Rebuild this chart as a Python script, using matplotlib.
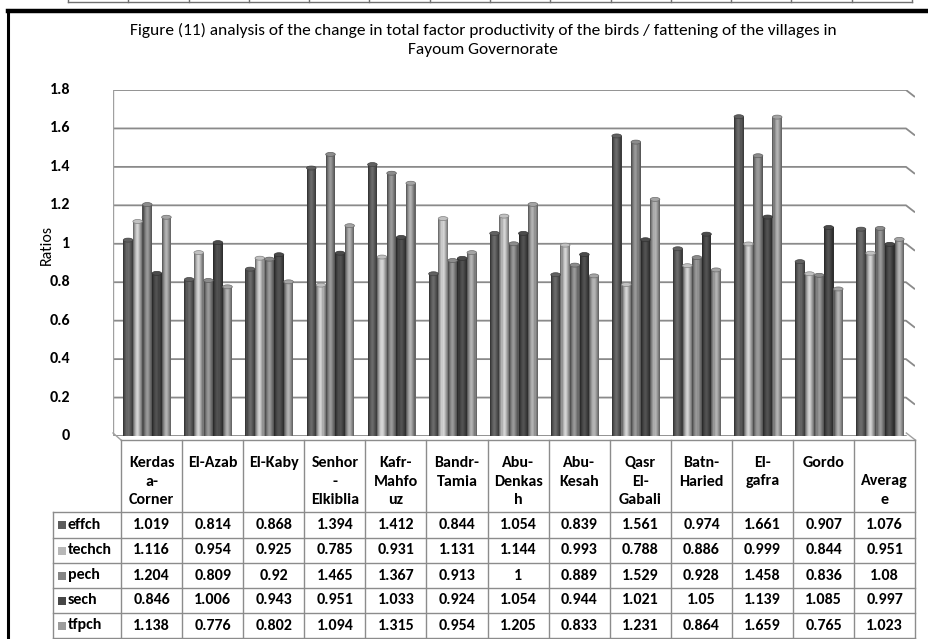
import matplotlib
matplotlib.use('Agg')
import matplotlib.pyplot as plt
from matplotlib.patches import Ellipse, Rectangle
import numpy as np

# villages (header cells are wrapped the way they appear in the data table)
villages = ['Kerdas a-Corner', 'El-Azab', 'El-Kaby', 'Senhor - Elkiblia', 'Kafr-Mahfouz',
            'Bandr-Tamia', 'Abu-Denkash', 'Abu-Kesah', 'Qasr El-Gabali', 'Batn-Haried',
            'El-gafra', 'Gordo', 'Average']
header_lines = [['Kerdas', 'a-', 'Corner'], ['El-Azab'], ['El-Kaby'], ['Senhor', '-', 'Elkiblia'],
                ['Kafr-', 'Mahfo', 'uz'], ['Bandr-', 'Tamia'], ['Abu-', 'Denkas', 'h'],
                ['Abu-', 'Kesah'], ['Qasr', 'El-', 'Gabali'], ['Batn-', 'Haried'], ['El-', 'gafra'],
                ['Gordo'], ['', 'Averag', 'e']]

series = ['effch', 'techch', 'pech', 'sech', 'tfpch']
effch = [1.019, 0.814, 0.868, 1.394, 1.412, 0.844, 1.054, 0.839, 1.561, 0.974, 1.661, 0.907, 1.076]
techch = [1.116, 0.954, 0.925, 0.785, 0.931, 1.131, 1.144, 0.993, 0.788, 0.886, 0.999, 0.844, 0.951]
pech = [1.204, 0.809, 0.92, 1.465, 1.367, 0.913, 1, 0.889, 1.529, 0.928, 1.458, 0.836, 1.08]
sech = [0.846, 1.006, 0.943, 0.951, 1.033, 0.924, 1.054, 0.944, 1.021, 1.05, 1.139, 1.085, 0.997]
tfpch = [1.138, 0.776, 0.802, 1.094, 1.315, 0.954, 1.205, 0.833, 1.231, 0.864, 1.659, 0.765, 1.023]
yticks = [0, 0.2, 0.4, 0.6, 0.8, 1, 1.2, 1.4, 1.6, 1.8]

values = [effch, techch, pech, sech, tfpch]
colors = ['#5c5c5c', '#b8b8b8', '#858585', '#474747', '#9c9c9c']

FONT = ['Carlito', 'Liberation Sans Narrow', 'Liberation Sans', 'DejaVu Sans']
W, H = 929, 639

fig = plt.figure(figsize=(W / 100, H / 100), dpi=100)


def px_box(x0, y0, x1, y1):
    # pixel box (top-left origin) -> figure fraction
    return [x0 / W, 1 - y1 / H, (x1 - x0) / W, (y1 - y0) / H]


# chart area: category i fills [i, i+1]; the back wall starts a little left of the table
col_left, col_w = 121, 61.1
wall_left = 113
y0_px, y18_px = 436, 90
ax = fig.add_axes(px_box(wall_left, y18_px, 915, y0_px))
ax.set_xlim(-(col_left - wall_left) / col_w, 13)
ax.set_ylim(0, 1.8)
ax.set_axis_off()

unit_y = 1.8 / (y0_px - y18_px)
unit_x = 1 / col_w
depth_x, depth_y = 9 * unit_x, 7 * unit_y

# back wall gridlines bending onto the side wall at the right
for t in yticks:
    ax.plot([ax.get_xlim()[0], 13 - depth_x, 13], [t, t, t - depth_y],
            color='#8a8a8a', lw=1.3, solid_capstyle='butt', zorder=1)
ax.plot([ax.get_xlim()[0]] * 2, [0, 1.8], color='#a0a0a0', lw=1.0, zorder=1)

# cylinder bars: each bar is built from narrow strips shaded across its width
bar_w = 0.157
n_strips = 9
shade = np.array([0.6, 0.8, 0.97, 1.1, 1.15, 1.08, 0.94, 0.8, 0.66])
x = np.arange(len(villages)) + 0.43
for k, (vals, c) in enumerate(zip(values, colors)):
    xc = x + (k - 2) * bar_w
    base = np.array(matplotlib.colors.to_rgb(c))
    for s in range(n_strips):
        col = np.clip(base * shade[s], 0, 1)
        off = -bar_w / 2 + (s + 0.5) * bar_w / n_strips
        ax.bar(xc + off, vals, width=bar_w / n_strips * 1.02, color=col, lw=0, zorder=3 + k * 0.01)
    for xi, v in zip(xc, vals):
        ax.add_patch(Ellipse((xi, v), bar_w, 4 * unit_y, facecolor=np.clip(base * 1.05, 0, 1),
                             edgecolor=np.clip(base * 0.7, 0, 1), lw=0.5, zorder=4))

# y tick labels and axis title
for t in yticks:
    fig.text(70 / W, 1 - (y0_px - t / unit_y) / H, f'{t:g}', ha='right', va='center',
             family=FONT, fontsize=11.5, fontweight='bold')
fig.text(47 / W, 1 - 245 / H, 'Ratios', rotation=90, ha='center', va='center',
         family=FONT, fontsize=11.5)

title_x = 483 / W
fig.text(title_x, 1 - 30 / H,
         'Figure (11) analysis of the change in total factor productivity of the birds / fattening of the villages in',
         ha='center', va='center', family=FONT, fontsize=12.5)
fig.text(title_x, 1 - 50 / H, 'Fayoum Governorate', ha='center', va='center', family=FONT, fontsize=12.5)

# overlay in pixel coordinates for the frame and data table
ov = fig.add_axes([0, 0, 1, 1], zorder=5)
ov.set_xlim(0, W)
ov.set_ylim(H, 0)
ov.set_axis_off()
ov.patch.set_alpha(0)

# page border pieces
ov.plot([8, 8], [10, H], color='black', lw=2.2)
ov.plot([8, W], [11, 11], color='black', lw=3.2)
ov.plot([68, 912], [2, 2], color='#707070', lw=1)
for k in range(15):
    xv = 68 + k * (912 - 68) / 14
    ov.plot([xv, xv], [0, 2], color='#707070', lw=1)

# floor edge
ov.plot([wall_left, col_left], [433, 440], color='#a0a0a0', lw=1)
ov.plot([col_left + 13 * col_w - 9, col_left + 13 * col_w], [433, 440], color='#a0a0a0', lw=1)

# table grid
line_c = '#8c8c8c'
head_top, head_bot = 440, 512
row_edges = [512, 538, 563, 588, 613, 638]
right = col_left + 13 * col_w
ov.plot([col_left, right], [head_top, head_top], color=line_c, lw=1)
ov.plot([53, right], [head_bot, head_bot], color=line_c, lw=1)
for yv in row_edges[1:]:
    ov.plot([53, right], [yv, yv], color=line_c, lw=1)
ov.plot([53, 53], [head_bot, row_edges[-1]], color=line_c, lw=1)
for k in range(14):
    xv = col_left + k * col_w
    ov.plot([xv, xv], [head_top, row_edges[-1]], color=line_c, lw=1)

for i, lines in enumerate(header_lines):
    xc = col_left + (i + 0.5) * col_w
    for j, s in enumerate(lines):
        ov.text(xc, 463 + j * 18.5, s, ha='center', va='center', family=FONT,
                fontsize=11.5, fontweight='bold')

for r, (name, vals, c) in enumerate(zip(series, values, colors)):
    yc = (row_edges[r] + row_edges[r + 1]) / 2
    ov.add_patch(Rectangle((58, yc - 4), 8, 8, color=c, lw=0))
    ov.text(68, yc, name, ha='left', va='center', family=FONT, fontsize=11.5, fontweight='bold')
    for i, v in enumerate(vals):
        ov.text(col_left + (i + 0.5) * col_w, yc, f'{v:g}', ha='center', va='center',
                family=FONT, fontsize=11.5, fontweight='bold')

fig.savefig('out.png', dpi=100)
